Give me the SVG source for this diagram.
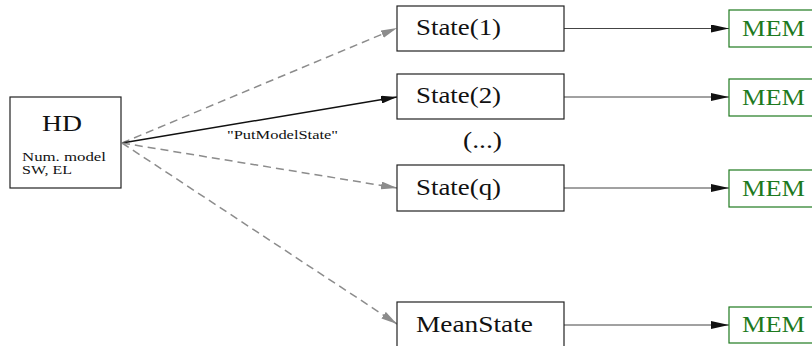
<svg xmlns="http://www.w3.org/2000/svg" width="812" height="346" viewBox="0 0 812 346">
<style>
.box{fill:#fff;stroke:#222;stroke-width:1.2}
.mem{fill:#fff;stroke:#1e7a1e;stroke-width:1.2}
.t{font-family:"Liberation Serif","Times New Roman",serif;fill:#111}
.st{font-size:23px}
.mt{font-family:"Liberation Serif","Times New Roman",serif;fill:#1e7a1e;font-size:23px}
.dash{fill:none;stroke:#8c8c8c;stroke-width:1.5;stroke-dasharray:8,5}
.solid{fill:none;stroke:#111;stroke-width:1.5}
.h{fill:none;stroke:#444;stroke-width:1}
</style>
<defs>
<marker id="ag" viewBox="0 0 16 8" refX="16" refY="4" markerWidth="16" markerHeight="8" markerUnits="userSpaceOnUse" orient="auto"><path d="M0,0 L16,4 L0,8 Z" fill="#8c8c8c"/></marker>
<marker id="ab" viewBox="0 0 16 8" refX="16" refY="4" markerWidth="16" markerHeight="8" markerUnits="userSpaceOnUse" orient="auto"><path d="M0,0 L16,4 L0,8 Z" fill="#111"/></marker>
<marker id="ah" viewBox="0 0 18 8" refX="18" refY="4" markerWidth="18" markerHeight="8" markerUnits="userSpaceOnUse" orient="auto"><path d="M0,0 L18,4 L0,8 Z" fill="#111"/></marker>
</defs>
<g id="connectors">
<line class="dash" x1="122" y1="143" x2="397" y2="28" marker-end="url(#ag)"/>
<line class="solid" x1="122" y1="143" x2="397" y2="97" marker-end="url(#ab)"/>
<line class="dash" x1="122" y1="143" x2="397" y2="188" marker-end="url(#ag)"/>
<line class="dash" x1="122" y1="143" x2="397" y2="324" marker-end="url(#ag)"/>
<line class="h" x1="564" y1="28.5" x2="729" y2="28.5" marker-end="url(#ah)"/>
<line class="h" x1="564" y1="97" x2="729" y2="97" marker-end="url(#ah)"/>
<line class="h" x1="564" y1="188" x2="729" y2="188" marker-end="url(#ah)"/>
<line class="h" x1="564" y1="325" x2="729" y2="325" marker-end="url(#ah)"/>
<text class="t" x="227" y="139" font-size="13" textLength="111" lengthAdjust="spacingAndGlyphs">"PutModelState"</text>
</g>
<g id="HD">
<rect class="box" x="10" y="97" width="111" height="91"/>
<text class="t" x="42" y="131" font-size="24" textLength="40" lengthAdjust="spacingAndGlyphs">HD</text>
<text class="t" x="22" y="161" font-size="12" textLength="84" lengthAdjust="spacingAndGlyphs">Num. model</text>
<text class="t" x="22" y="174" font-size="12" textLength="50" lengthAdjust="spacingAndGlyphs">SW, EL</text>
</g>
<g id="state1">
<rect class="box" x="397" y="6" width="167" height="45"/>
<text class="t st" x="416" y="35" textLength="85" lengthAdjust="spacingAndGlyphs">State(1)</text>
</g>
<g id="state2">
<rect class="box" x="397" y="74" width="167" height="45"/>
<text class="t st" x="416" y="103" textLength="85" lengthAdjust="spacingAndGlyphs">State(2)</text>
</g>
<g id="ellipsis">
<text class="t st" x="463" y="148" textLength="39" lengthAdjust="spacingAndGlyphs">(...)</text>
</g>
<g id="stateq">
<rect class="box" x="397" y="165" width="167" height="46"/>
<text class="t st" x="416" y="195" textLength="85" lengthAdjust="spacingAndGlyphs">State(q)</text>
</g>
<g id="meanstate">
<rect class="box" x="397" y="302" width="167" height="46"/>
<text class="t st" x="416" y="332" textLength="117" lengthAdjust="spacingAndGlyphs">MeanState</text>
</g>
<g id="mem1">
<rect class="mem" x="729" y="10" width="90" height="37"/>
<text class="mt" x="742" y="36" textLength="63" lengthAdjust="spacingAndGlyphs">MEM</text>
</g>
<g id="mem2">
<rect class="mem" x="729" y="79" width="90" height="37"/>
<text class="mt" x="742" y="105" textLength="63" lengthAdjust="spacingAndGlyphs">MEM</text>
</g>
<g id="mem3">
<rect class="mem" x="729" y="170" width="90" height="37"/>
<text class="mt" x="742" y="196" textLength="63" lengthAdjust="spacingAndGlyphs">MEM</text>
</g>
<g id="mem4">
<rect class="mem" x="729" y="307" width="90" height="36"/>
<text class="mt" x="742" y="332" textLength="63" lengthAdjust="spacingAndGlyphs">MEM</text>
</g>
</svg>
